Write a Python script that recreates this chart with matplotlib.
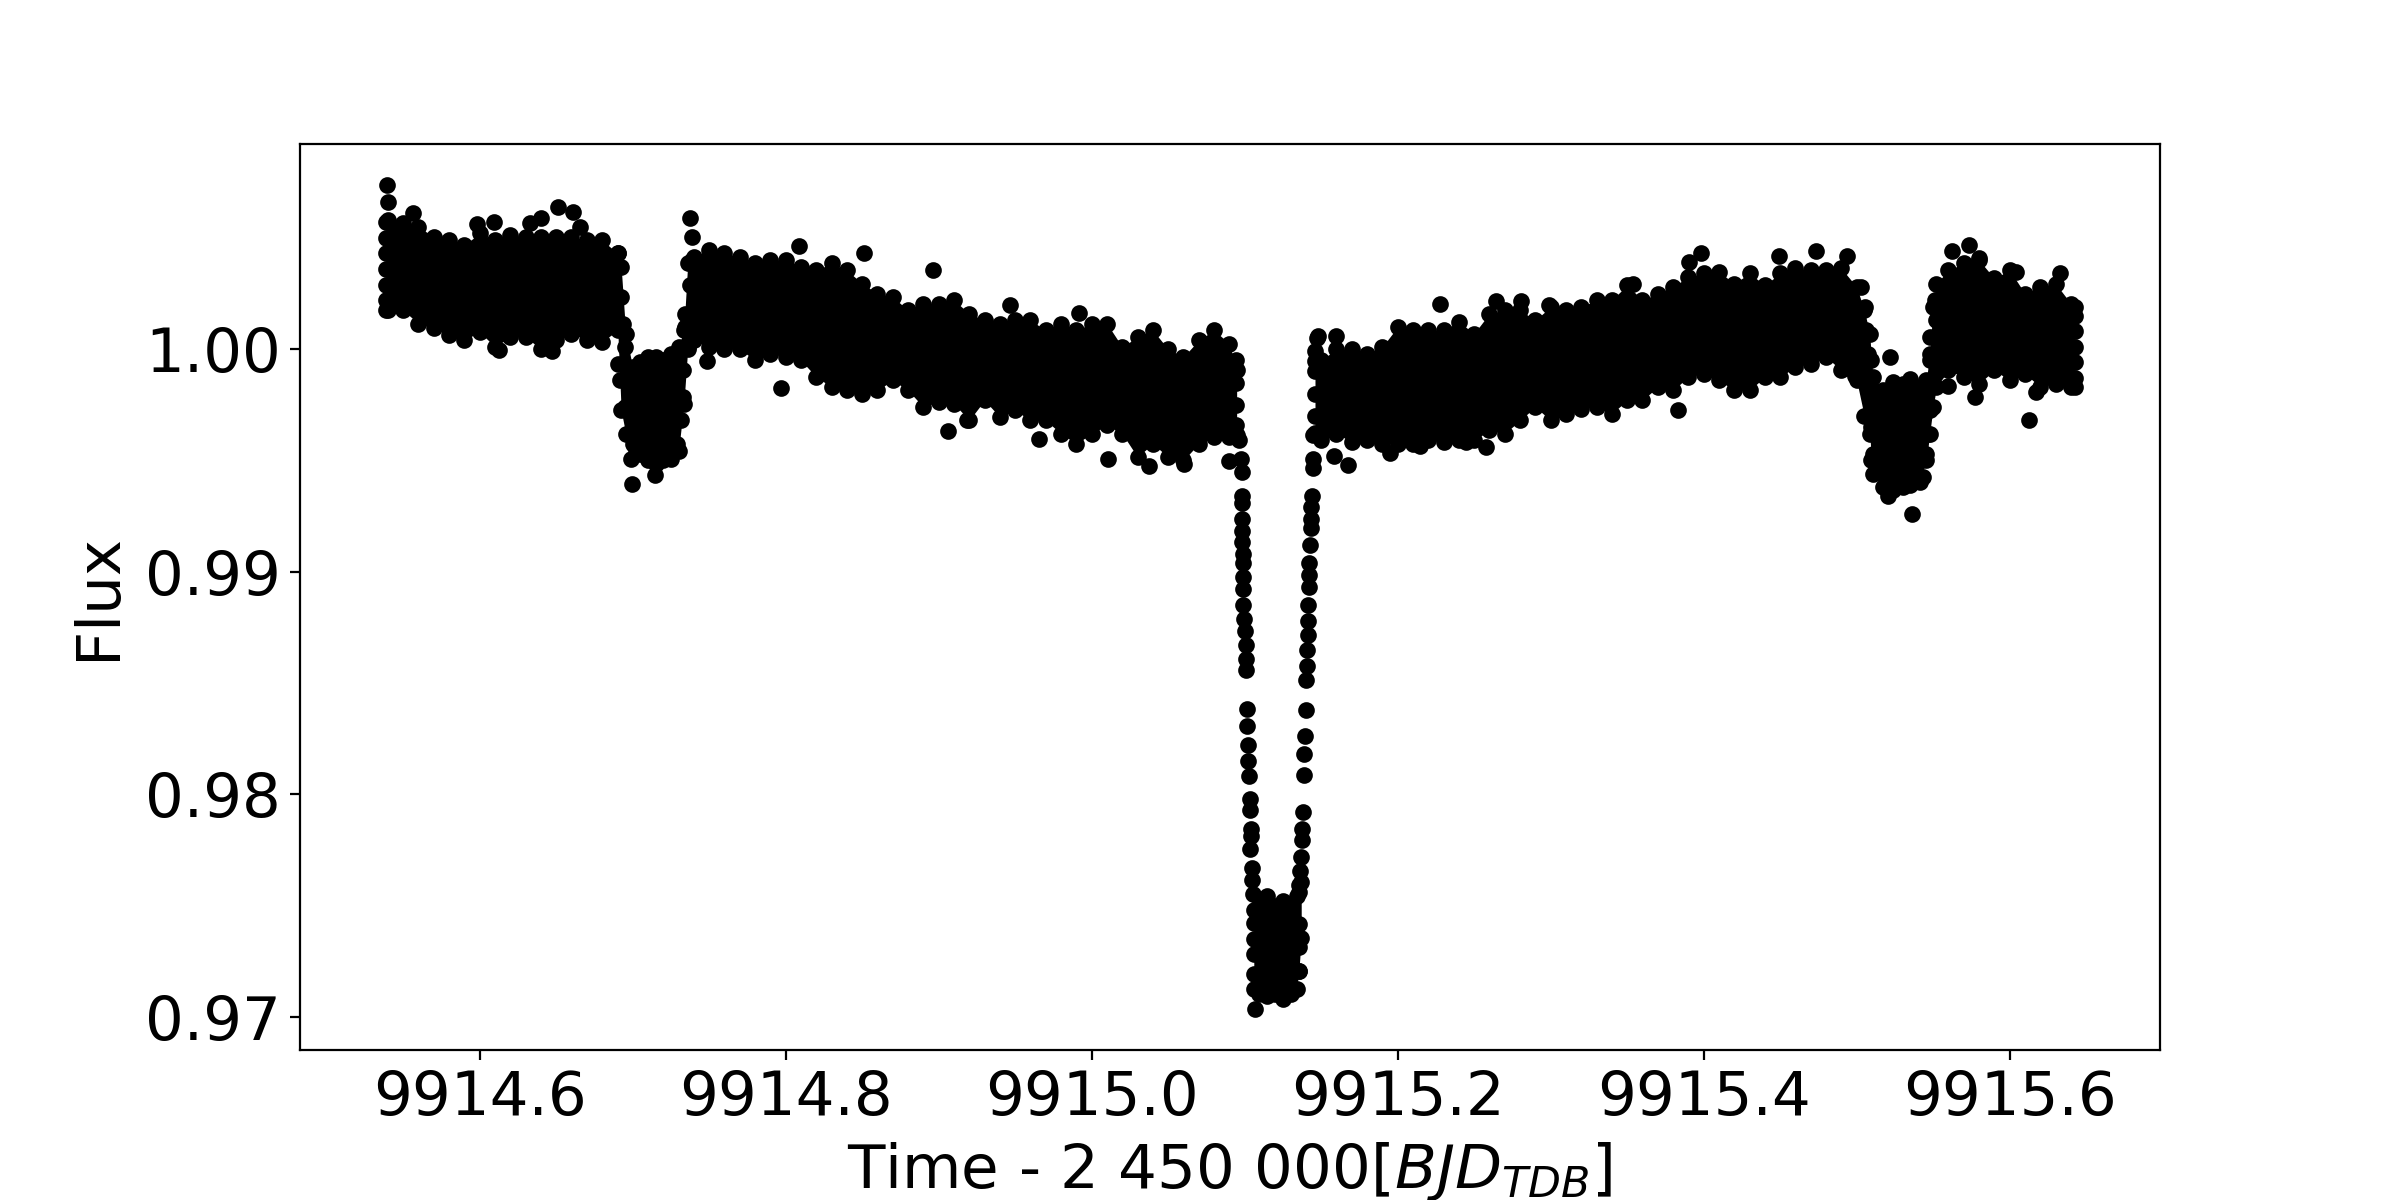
import numpy as np
import matplotlib
matplotlib.use('Agg')
import matplotlib.pyplot as plt

# all times are BJD - 2450000

# out of transit band before the big dip: upper and lower edge of the dots
t_before = [9914.5387, 9914.54, 9914.55, 9914.56, 9914.57, 9914.58, 9914.59, 9914.60, 9914.61, 9914.62,
            9914.63, 9914.64, 9914.65, 9914.66, 9914.67, 9914.68, 9914.6903, 9914.6925, 9914.6955, 9914.70,
            9914.705, 9914.71, 9914.715, 9914.72, 9914.725, 9914.73, 9914.7335, 9914.736, 9914.7385, 9914.74,
            9914.75, 9914.76, 9914.77, 9914.78, 9914.79, 9914.80, 9914.81, 9914.82, 9914.83, 9914.84,
            9914.85, 9914.86, 9914.87, 9914.88, 9914.89, 9914.90, 9914.91, 9914.92, 9914.93, 9914.94,
            9914.95, 9914.96, 9914.97, 9914.98, 9914.99, 9915.00, 9915.01, 9915.02, 9915.03, 9915.04,
            9915.05, 9915.06, 9915.07, 9915.08, 9915.09, 9915.0948]
up_before = [1.00570, 1.00580, 1.00565, 1.00550, 1.00505, 1.00490, 1.00468, 1.00520, 1.00490, 1.00513,
             1.00505, 1.00505, 1.00505, 1.00505, 1.00490, 1.00490, 1.00430, 1.00370, 1.00070, 0.99920,
             0.99943, 0.99965, 0.99965, 0.99950, 0.99980, 1.00010, 1.00085, 1.00385, 1.00400, 1.00415,
             1.00445, 1.00430, 1.00415, 1.00385, 1.00400, 1.00400, 1.00370, 1.00355, 1.00385, 1.00355,
             1.00295, 1.00250, 1.00235, 1.00175, 1.00205, 1.00205, 1.00220, 1.00160, 1.00130, 1.00115,
             1.00130, 1.00130, 1.00085, 1.00115, 1.00085, 1.00115, 1.00115, 1.00010, 1.00055, 1.00085,
             1.00000, 0.99965, 1.00040, 1.00085, 1.00025, 0.99906]
lo_before = [1.00175, 1.00175, 1.00175, 1.00115, 1.00093, 1.00063, 1.00040, 1.00078, 1.00010, 1.00055,
             1.00055, 1.00000, 1.00040, 1.00070, 1.00040, 1.00033, 1.00085, 0.99725, 0.99620, 0.99575,
             0.99530, 0.99500, 0.99485, 0.99500, 0.99508, 0.99540, 0.99755, 1.00000, 1.00040, 1.00040,
             1.00010, 1.00000, 1.00000, 0.99950, 0.99980, 0.99965, 0.99950, 0.99875, 0.99830, 0.99815,
             0.99800, 0.99815, 0.99860, 0.99815, 0.99740, 0.99763, 0.99755, 0.99680, 0.99770, 0.99695,
             0.99725, 0.99680, 0.99680, 0.99620, 0.99575, 0.99620, 0.99658, 0.99620, 0.99515, 0.99575,
             0.99515, 0.99500, 0.99575, 0.99605, 0.99605, 0.99613]

# flat bottom of the big dip
t_bottom = [9915.106, 9915.1095, 9915.1145, 9915.12, 9915.125, 9915.13, 9915.134, 9915.1355, 9915.137]
up_bottom = [0.97478, 0.97499, 0.97540, 0.97499, 0.97520, 0.97499, 0.97540, 0.97562, 0.97604]
lo_bottom = [0.97122, 0.97101, 0.97091, 0.97101, 0.97080, 0.97101, 0.97122, 0.97206, 0.97354]

# band after the big dip, with the second small dip in it
t_after = [9915.146, 9915.15, 9915.16, 9915.17, 9915.18, 9915.19, 9915.20, 9915.21, 9915.22, 9915.23,
           9915.24, 9915.25, 9915.26, 9915.27, 9915.28, 9915.29, 9915.30, 9915.31, 9915.32, 9915.33,
           9915.34, 9915.35, 9915.36, 9915.37, 9915.38, 9915.39, 9915.40, 9915.41, 9915.42, 9915.43,
           9915.44, 9915.45, 9915.46, 9915.47, 9915.48, 9915.49, 9915.50, 9915.505, 9915.5086, 9915.5097,
           9915.5108, 9915.5173, 9915.5238, 9915.53, 9915.5347, 9915.5413, 9915.5456, 9915.5478, 9915.55, 9915.5522,
           9915.56, 9915.57, 9915.58, 9915.59, 9915.60, 9915.61, 9915.62, 9915.63, 9915.64, 9915.6426]
up_after = [0.99948, 0.99950, 1.00000, 1.00000, 0.99980, 1.00010, 1.00100, 1.00085, 1.00085, 1.00085,
            1.00123, 1.00070, 1.00160, 1.00175, 1.00175, 1.00130, 1.00190, 1.00175, 1.00190, 1.00220,
            1.00220, 1.00288, 1.00220, 1.00250, 1.00280, 1.00325, 1.00340, 1.00348, 1.00295, 1.00340,
            1.00288, 1.00340, 1.00363, 1.00355, 1.00355, 1.00363, 1.00280, 1.00175, 1.00070, 0.99950,
            0.99875, 0.99815, 0.99853, 0.99845, 0.99868, 0.99830, 0.99860, 0.99980, 1.00190, 1.00295,
            1.00355, 1.00385, 1.00400, 1.00318, 1.00355, 1.00250, 1.00280, 1.00295, 1.00205, 1.00190]
lo_after = [0.99623, 0.99590, 0.99620, 0.99583, 0.99590, 0.99575, 0.99575, 0.99575, 0.99590, 0.99583,
            0.99590, 0.99590, 0.99635, 0.99620, 0.99680, 0.99740, 0.99680, 0.99710, 0.99733, 0.99740,
            0.99710, 0.99770, 0.99770, 0.99830, 0.99815, 0.99875, 0.99890, 0.99860, 0.99815, 0.99815,
            0.99875, 0.99875, 0.99920, 0.99935, 0.99965, 0.99905, 0.99860, 0.99700, 0.99620, 0.99500,
            0.99440, 0.99380, 0.99365, 0.99380, 0.99388, 0.99403, 0.99500, 0.99620, 0.99740, 0.99830,
            0.99905, 0.99875, 0.99845, 0.99905, 0.99860, 0.99890, 0.99830, 0.99845, 0.99830, 0.99830]

# dots along the steep edges of the bands
t_wall = [9914.5387, 9914.5387, 9914.5387, 9914.5387, 9914.5387,
          9914.6905, 9914.6927, 9914.6938, 9914.6949, 9914.6905, 9914.6916, 9914.6949, 9914.6982, 9914.7014,
          9914.7374, 9914.7374, 9914.7341, 9914.7341, 9914.7363, 9914.733, 9914.733, 9914.7319, 9914.7287,
          9915.0943, 9915.0943, 9915.0943, 9915.0943,
          9915.1061, 9915.1061, 9915.1061, 9915.1061, 9915.1355, 9915.1355, 9915.1355,
          9915.146, 9915.146, 9915.146, 9915.146,
          9915.5031, 9915.5053, 9915.5064, 9915.5075, 9915.5075, 9915.5086, 9915.5097, 9915.5108,
          9915.5478, 9915.5467, 9915.5456, 9915.5434, 9915.5478, 9915.5478, 9915.5489, 9915.5511, 9915.5522,
          9915.6426, 9915.6426, 9915.6426, 9915.6426, 9915.6426]
f_wall = [1.00500, 1.00430, 1.00360, 1.00290, 1.00220,
          1.00430, 1.00235, 1.00115, 1.00010, 0.99935, 0.99860, 0.99740, 0.99620, 0.99560,
          1.00385, 1.00290, 1.00160, 1.00100, 1.00010, 0.99905, 0.99785, 0.99680, 0.99575,
          0.99950, 0.99850, 0.99750, 0.99660,
          0.97420, 0.97350, 0.97280, 0.97190, 0.97415, 0.97311, 0.97206,
          0.99990, 0.99900, 0.99800, 0.99700,
          1.00280, 1.00190, 1.00085, 0.99980, 0.99875, 0.99770, 0.99650, 0.99530,
          0.99725, 0.99620, 0.99530, 0.99425, 1.00055, 0.99950, 0.99860, 1.00220, 1.00130,
          1.00150, 1.00080, 1.00010, 0.99940, 0.99870]

# single dots on the steep sides of the big dip
t_ingress = [9915.0965, 9915.0974, 9915.098, 9915.098, 9915.098, 9915.098, 9915.098, 9915.0985, 9915.0987, 9915.0987,
             9915.0987, 9915.0991, 9915.0991, 9915.0998, 9915.1002, 9915.1007, 9915.1009, 9915.1009, 9915.1015, 9915.1017,
             9915.102, 9915.1024, 9915.1028, 9915.1035, 9915.1035, 9915.1039, 9915.1039, 9915.1035, 9915.105, 9915.105, 9915.1057]
f_ingress = [0.99592, 0.99508, 0.99446, 0.99341, 0.99310, 0.99236, 0.99184, 0.99132, 0.99079, 0.99037,
             0.98975, 0.98922, 0.98849, 0.98786, 0.98734, 0.98671, 0.98608, 0.98556, 0.98384, 0.98305,
             0.98221, 0.98148, 0.98081, 0.97980, 0.97928, 0.97844, 0.97813, 0.97754, 0.97667, 0.97614, 0.97551]
t_egress = [9915.1444, 9915.1444, 9915.1444, 9915.1438, 9915.1434, 9915.1434, 9915.1434, 9915.1427, 9915.1423, 9915.1423,
            9915.1423, 9915.1416, 9915.1416, 9915.1412, 9915.141, 9915.1405, 9915.1401, 9915.1401, 9915.1394, 9915.139,
            9915.139, 9915.1383, 9915.1377, 9915.1373, 9915.1368, 9915.1362, 9915.1357]
f_egress = [0.99613, 0.99508, 0.99467, 0.99341, 0.99289, 0.99236, 0.99194, 0.99121, 0.99037, 0.98985,
            0.98933, 0.98849, 0.98776, 0.98713, 0.98650, 0.98577, 0.98514, 0.98378, 0.98263, 0.98179,
            0.98085, 0.97918, 0.97844, 0.97792, 0.97719, 0.97656, 0.97593]

# stray dots outside the bands
t_stray = [9914.5393, 9914.5402, 9914.5566, 9914.5986, 9914.6095, 9914.6128, 9914.6328, 9914.64, 9914.647, 9914.6513,
           9914.6613, 9914.6655, 9914.6988, 9914.6997, 9914.7145, 9914.7374, 9914.7387, 9914.7483, 9914.7973, 9914.8086,
           9914.8514, 9914.8961, 9914.9059, 9914.9183, 9914.9466, 9914.9654, 9914.9915, 9915.0109, 9915.0377, 9915.0606,
           9915.0895, 9915.1068, 9915.1477, 9915.1474, 9915.1585, 9915.1596, 9915.1676, 9915.1949, 9915.2145, 9915.2275,
           9915.245, 9915.2576, 9915.2646, 9915.2809, 9915.299, 9915.3539, 9915.3835, 9915.3903, 9915.3981, 9915.4491,
           9915.4737, 9915.4933, 9915.4938, 9915.4988, 9915.5206, 9915.5221, 9915.5365, 9915.5598, 9915.5626, 9915.5735,
           9915.5772, 9915.58, 9915.6044, 9915.6127, 9915.6175, 9915.6328]
f_stray = [1.00738, 1.00663, 1.00613, 1.00562, 1.00573, 0.99995, 1.00568, 1.00588, 0.99990, 1.00637,
           1.00618, 1.00550, 0.99508, 0.99395, 0.99433, 1.00588, 1.00502, 0.99947, 0.99827, 1.00463,
           1.00433, 1.00355, 0.99631, 0.99680, 1.00198, 0.99598, 1.00163, 0.99508, 0.99475, 0.99485,
           0.99497, 0.97035, 1.00057, 1.00052, 0.99518, 1.00058, 0.99481, 0.99533, 0.99563, 1.00205,
           0.99581, 0.99560, 1.00217, 1.00217, 1.00198, 1.00295, 0.99725, 1.00390, 1.00430, 1.00420,
           1.00442, 0.99913, 1.00418, 0.99880, 0.99338, 0.99965, 0.99260, 0.99835, 1.00442, 1.00468,
           0.99785, 1.00408, 1.00348, 0.99680, 0.99808, 1.00343]

x_ticks = [9914.6, 9914.8, 9915.0, 9915.2, 9915.4, 9915.6]
y_ticks = [0.97, 0.98, 0.99, 1.00]

fig, ax = plt.subplots(figsize=(12, 6), dpi=200)
fig.subplots_adjust(bottom=0.125)

# bands are so dense the dots merge, so fill between the edges and put dots on them
for t, up, lo in [(t_before, up_before, lo_before), (t_bottom, up_bottom, lo_bottom), (t_after, up_after, lo_after)]:
    ax.fill_between(t, lo, up, color='k', lw=0)
    ax.scatter(t, up, s=25, color='k')
    ax.scatter(t, lo, s=25, color='k')

ax.scatter(t_wall, f_wall, s=25, color='k')
ax.scatter(t_ingress, f_ingress, s=25, color='k')
ax.scatter(t_egress, f_egress, s=25, color='k')
ax.scatter(t_stray, f_stray, s=25, color='k')

ax.set_xlim(9914.4826, 9915.6983)
ax.set_ylim(0.96850, 1.00922)
ax.set_xticks(x_ticks)
ax.set_yticks(y_ticks)
ax.ticklabel_format(useOffset=False)
ax.tick_params(labelsize=22)
ax.set_xlabel('Time - 2 450 000[$BJD_{TDB}$]', fontsize=22)
ax.set_ylabel('Flux', fontsize=22, labelpad=6)

plt.savefig('out.png')
